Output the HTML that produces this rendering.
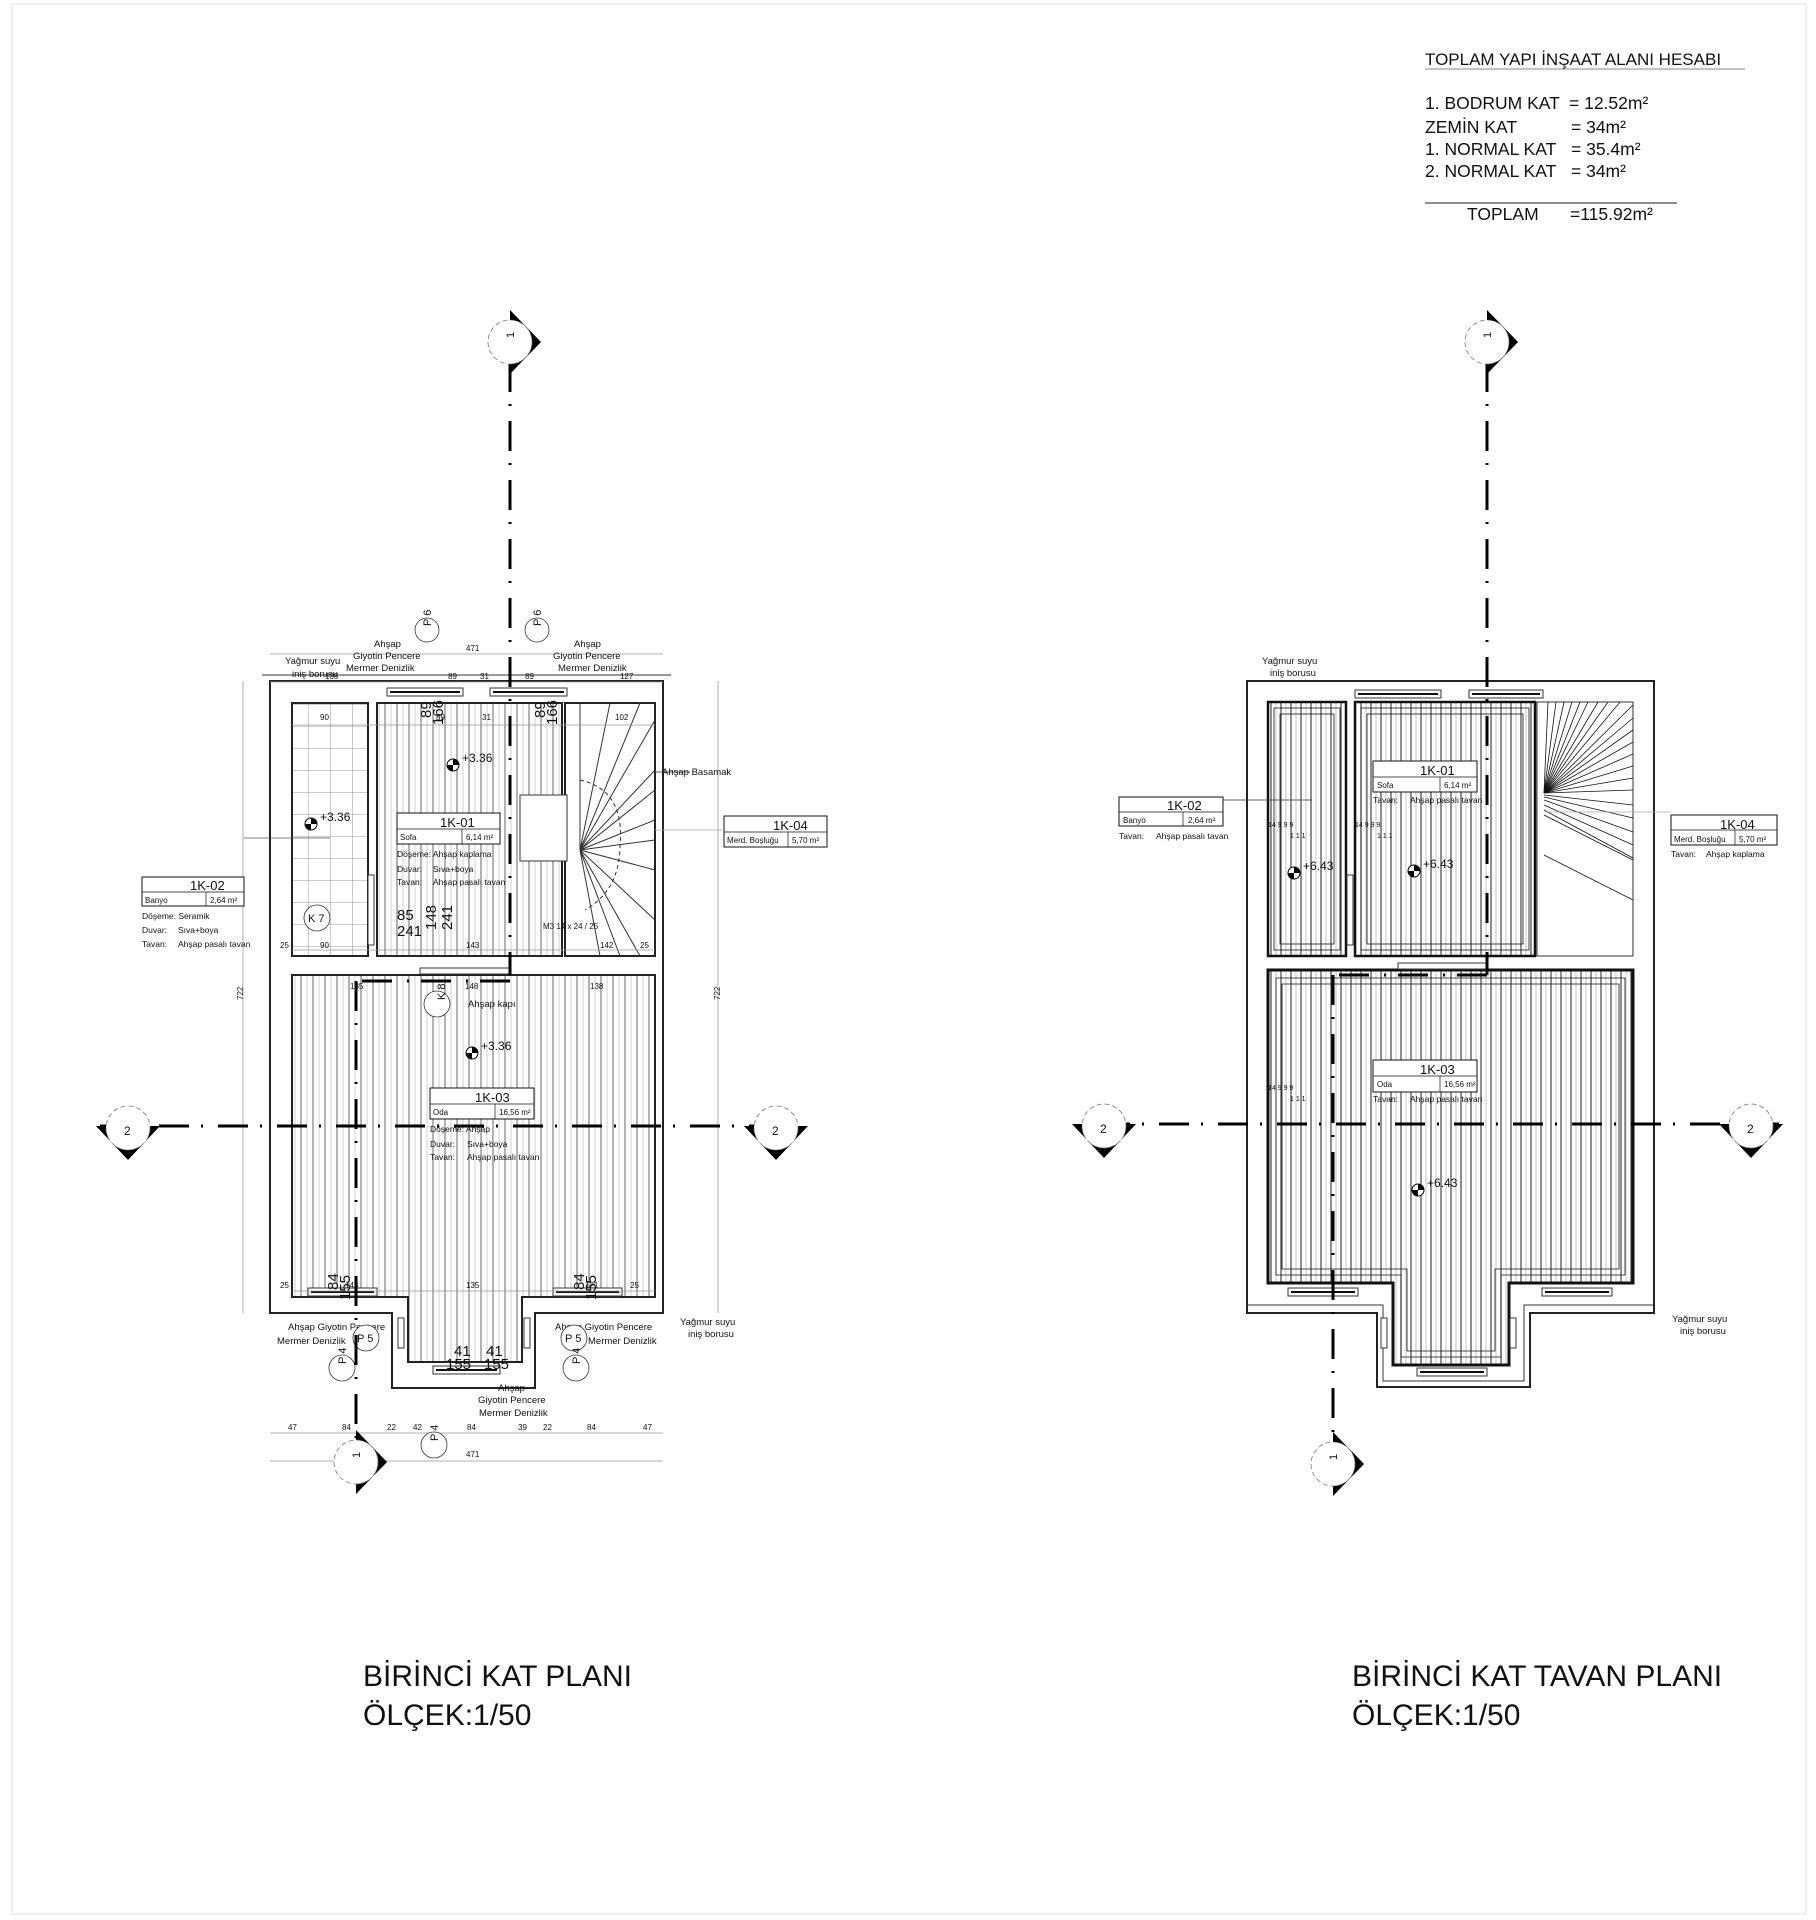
<!DOCTYPE html>
<html><head><meta charset="utf-8">
<style>
html,body{margin:0;padding:0;background:#fff;}
svg{display:block;font-family:"Liberation Sans",sans-serif;}
.t{font-family:"Liberation Sans",sans-serif;fill:#111;}
.w{fill:none;stroke:#222;stroke-width:2;}
.th{fill:none;stroke:#111;stroke-width:3;}
.l{fill:none;stroke:#333;stroke-width:1;}
.g{fill:none;stroke:#999;stroke-width:0.8;}
.ax{fill:none;stroke:#000;stroke-width:3;stroke-dasharray:30 12 2 15;}
</style></head>
<body>
<svg width="1816" height="1920" viewBox="0 0 1816 1920" xmlns="http://www.w3.org/2000/svg">
<defs>
<pattern id="boards" width="12" height="10" patternUnits="userSpaceOnUse">
<line x1="1" y1="0" x2="1" y2="10" stroke="#555" stroke-width="0.9"/>
<line x1="7" y1="0" x2="7" y2="10" stroke="#bbb" stroke-width="0.7"/>
</pattern>
<pattern id="boards2" width="10" height="10" patternUnits="userSpaceOnUse">
<line x1="1" y1="0" x2="1" y2="10" stroke="#333" stroke-width="1.1"/>
<line x1="6" y1="0" x2="6" y2="10" stroke="#aaa" stroke-width="0.7"/>
</pattern>
<pattern id="tiles" width="22" height="22" patternUnits="userSpaceOnUse">
<path d="M0 0H22M0 0V22" stroke="#777" stroke-width="0.8" fill="none"/>
</pattern>
</defs>
<rect x="0" y="0" width="1816" height="1920" fill="#fff"/>
<rect x="12" y="4" width="1794" height="1910" fill="none" stroke="#e2e2e2" stroke-width="1"/>

<!-- Area table -->
<text class="t" x="1425" y="65" font-size="17">TOPLAM YAPI İNŞAAT ALANI HESABI</text>
<line x1="1425" y1="69" x2="1745" y2="69" stroke="#888" stroke-width="1"/>
<g class="t" font-size="17.5">
<text x="1425" y="109">1. BODRUM KAT</text><text x="1569" y="109">= 12.52m²</text>
<text x="1425" y="133">ZEMİN KAT</text><text x="1571" y="133">= 34m²</text>
<text x="1425" y="155">1. NORMAL KAT</text><text x="1571" y="155">= 35.4m²</text>
<text x="1425" y="177">2. NORMAL KAT</text><text x="1571" y="177">= 34m²</text>
<text x="1467" y="220">TOPLAM</text><text x="1570" y="220">=115.92m²</text>
</g>
<line x1="1425" y1="203" x2="1677" y2="203" stroke="#222" stroke-width="1"/>

<!-- Titles -->
<g class="t" font-size="30">
<text x="363" y="1686">BİRİNCİ KAT PLANI</text>
<text x="363" y="1725">ÖLÇEK:1/50</text>
<text x="1352" y="1686">BİRİNCİ  KAT TAVAN PLANI</text>
<text x="1352" y="1725">ÖLÇEK:1/50</text>
</g>

<!-- ================= LEFT PLAN ================= -->
<!-- floors -->
<rect x="292" y="703" width="76" height="253" fill="url(#tiles)"/>
<rect x="377" y="703" width="185" height="253" fill="url(#boards)"/>
<rect x="292" y="975" width="363" height="322" fill="url(#boards)"/>
<rect x="408" y="1297" width="114" height="65" fill="url(#boards)"/>
<!-- walls -->
<path class="w" d="M270 681H663V1313H535V1388H392V1313H270Z"/>
<path class="l" d="M262 675H671"/>
<rect class="w" x="292" y="703" width="76" height="253"/>
<rect class="w" x="377" y="703" width="185" height="253"/>
<rect class="w" x="565" y="703" width="90" height="253"/>
<path class="w" d="M292 975H655V1297H522V1362H408V1297H292Z"/>
<!-- windows -->
<g>
<rect x="387" y="688" width="76" height="8" fill="#fff" stroke="#333"/><line x1="390" y1="692" x2="460" y2="692" stroke="#111" stroke-width="2"/>
<rect x="490" y="688" width="77" height="8" fill="#fff" stroke="#333"/><line x1="493" y1="692" x2="564" y2="692" stroke="#111" stroke-width="2"/>
<rect x="308" y="1288" width="69" height="8" fill="#fff" stroke="#333"/><line x1="311" y1="1292" x2="374" y2="1292" stroke="#111" stroke-width="2"/>
<rect x="553" y="1288" width="69" height="8" fill="#fff" stroke="#333"/><line x1="556" y1="1292" x2="619" y2="1292" stroke="#111" stroke-width="2"/>
<rect x="433" y="1366" width="67" height="8" fill="#fff" stroke="#333"/><line x1="436" y1="1370" x2="497" y2="1370" stroke="#111" stroke-width="2"/>
<rect x="398" y="1318" width="6" height="30" fill="#fff" stroke="#333"/>
<rect x="524" y="1318" width="6" height="30" fill="#fff" stroke="#333"/>
<rect x="368" y="875" width="6" height="70" fill="#fff" stroke="#333"/>
<rect x="420" y="968" width="90" height="6" fill="#fff" stroke="#333"/>
</g>
<!-- stair -->
<g class="l">
<rect x="520" y="795" width="47" height="66" fill="#fff"/>
<path d="M580 850L655 720M580 850L655 770M580 850L655 790M580 850L655 820M580 850L655 840M580 850L655 870M580 850L640 956M580 850L620 956M580 850L600 956M580 850L655 920M580 850L580 703M580 850L610 703M580 850L640 703"/>
<path d="M580 780Q625 790 620 845Q620 890 585 910" stroke-dasharray="4 3"/>
</g>
<line x1="655" y1="772" x2="690" y2="772" stroke="#555"/>
<!-- dimension lines -->
<g class="g">
<path d="M270 654H663M270 682H663M270 1433H663M270 1461H663M243 681V1313M718 681V1313M292 725H655M292 950H655M292 1291H655"/>
</g>
<g class="t" font-size="8">
<text x="466" y="651">471</text><text x="325" y="679">135</text><text x="448" y="679">89</text><text x="480" y="679">31</text><text x="525" y="679">89</text><text x="620" y="679">127</text>
<text x="320" y="720">90</text><text x="436" y="720">89</text><text x="482" y="720">31</text><text x="615" y="720">102</text>
<text x="280" y="948">25</text><text x="320" y="948">90</text><text x="466" y="948">143</text><text x="600" y="948">142</text><text x="640" y="948">25</text>
<text x="350" y="989">135</text><text x="465" y="989">148</text><text x="590" y="989">138</text>
<text x="280" y="1288">25</text><text x="345" y="1288">143</text><text x="466" y="1288">135</text><text x="585" y="1288">121</text><text x="630" y="1288">25</text>
<text x="288" y="1430">47</text><text x="342" y="1430">84</text><text x="387" y="1430">22</text><text x="413" y="1430">42</text><text x="467" y="1430">84</text><text x="518" y="1430">39</text><text x="543" y="1430">22</text><text x="587" y="1430">84</text><text x="643" y="1430">47</text>
<text x="466" y="1457">471</text>
<text x="243" y="1000" transform="rotate(-90 243 1000)">722</text>
<text x="720" y="1000" transform="rotate(-90 720 1000)">722</text>
<text x="543" y="929">M3 14 x 24 / 25</text>
</g>
<g class="t" font-size="15">
<text x="397" y="920">85</text><text x="397" y="936">241</text>
<text x="436" y="930" transform="rotate(-90 436 930)">148</text><text x="452" y="930" transform="rotate(-90 452 930)">241</text>
<text x="431" y="718" transform="rotate(-90 431 718)">89</text><text x="443" y="725" transform="rotate(-90 443 725)">166</text>
<text x="545" y="718" transform="rotate(-90 545 718)">89</text><text x="557" y="725" transform="rotate(-90 557 725)">166</text>
<text x="454" y="1356">41</text><text x="486" y="1356">41</text><text x="446" y="1369">155</text><text x="484" y="1369">155</text>
<text x="338" y="1290" transform="rotate(-90 338 1290)">84</text><text x="350" y="1300" transform="rotate(-90 350 1300)">155</text>
<text x="584" y="1290" transform="rotate(-90 584 1290)">84</text><text x="596" y="1300" transform="rotate(-90 596 1300)">155</text>
</g>
<!-- labels -->
<g class="t" font-size="9.5">
<text x="374" y="647">Ahşap</text><text x="353" y="659">Giyotin Pencere</text><text x="346" y="671">Mermer Denizlik</text>
<text x="574" y="647">Ahşap</text><text x="553" y="659">Giyotin Pencere</text><text x="558" y="671">Mermer Denizlik</text>
<text x="285" y="664">Yağmur suyu</text><text x="292" y="677">iniş borusu</text>
<text x="662" y="775">Ahşap Basamak</text>
<text x="468" y="1007">Ahşap kapı</text>
<text x="288" y="1330">Ahşap Giyotin Pencere</text><text x="277" y="1344">Mermer Denizlik</text>
<text x="555" y="1330">Ahşap Giyotin Pencere</text><text x="588" y="1344">Mermer Denizlik</text>
<text x="498" y="1391">Ahşap</text><text x="478" y="1403">Giyotin Pencere</text><text x="479" y="1416">Mermer Denizlik</text>
<text x="680" y="1325">Yağmur suyu</text><text x="688" y="1337">iniş borusu</text>
</g>
<g class="t" font-size="8.5">
<text x="142" y="919">Döşeme: Seramik</text><text x="142" y="933">Duvar:</text><text x="178" y="933">Sıva+boya</text><text x="142" y="947">Tavan:</text><text x="178" y="947">Ahşap pasalı tavan</text>
<text x="397" y="857">Döşeme: Ahşap kaplama</text><text x="397" y="872">Duvar:</text><text x="433" y="872">Sıva+boya</text><text x="397" y="885">Tavan:</text><text x="433" y="885">Ahşap pasalı tavan</text>
<text x="430" y="1132">Döşeme: Ahşap</text><text x="430" y="1147">Duvar:</text><text x="467" y="1147">Sıva+boya</text><text x="430" y="1160">Tavan:</text><text x="467" y="1160">Ahşap pasalı tavan</text>
</g>
<!-- room tags left -->
<g>
<rect x="397" y="813" width="103" height="31" fill="#fff" stroke="#111"/><line x1="397" y1="829" x2="500" y2="829" stroke="#111" stroke-width="0.7"/><line x1="462" y1="829" x2="462" y2="844" stroke="#111" stroke-width="0.7"/>
<text class="t" x="440" y="827" font-size="13">1K-01</text><text class="t" x="400" y="840" font-size="8">Sofa</text><text class="t" x="466" y="840" font-size="8">6,14 m²</text>
<rect x="142" y="877" width="102" height="29" fill="#fff" stroke="#111"/><line x1="142" y1="892" x2="244" y2="892" stroke="#111" stroke-width="0.7"/><line x1="206" y1="892" x2="206" y2="906" stroke="#111" stroke-width="0.7"/>
<text class="t" x="190" y="890" font-size="13">1K-02</text><text class="t" x="145" y="903" font-size="8">Banyo</text><text class="t" x="210" y="903" font-size="8">2,64 m²</text>
<rect x="724" y="816" width="103" height="31" fill="#fff" stroke="#111"/><line x1="724" y1="832" x2="827" y2="832" stroke="#111" stroke-width="0.7"/><line x1="788" y1="832" x2="788" y2="847" stroke="#111" stroke-width="0.7"/>
<text class="t" x="773" y="830" font-size="13">1K-04</text><text class="t" x="727" y="843" font-size="8">Merd. Boşluğu</text><text class="t" x="792" y="843" font-size="8">5,70 m²</text>
<rect x="430" y="1088" width="104" height="31" fill="#fff" stroke="#111"/><line x1="430" y1="1104" x2="534" y2="1104" stroke="#111" stroke-width="0.7"/><line x1="495" y1="1104" x2="495" y2="1119" stroke="#111" stroke-width="0.7"/>
<text class="t" x="475" y="1102" font-size="13">1K-03</text><text class="t" x="433" y="1115" font-size="8">Oda</text><text class="t" x="499" y="1115" font-size="8">16,56 m²</text>
<line x1="244" y1="838" x2="330" y2="838" stroke="#555" stroke-width="0.7"/>
<line x1="655" y1="830" x2="724" y2="830" stroke="#aaa" stroke-width="0.7"/>
</g>
<!-- elevations left -->
<g>
<circle cx="453" cy="765" r="6" fill="#fff" stroke="#000"/><path d="M453 759A6 6 0 0 1 459 765H453ZM453 771A6 6 0 0 1 447 765H453Z" fill="#000"/>
<text class="t" x="462" y="762" font-size="12">+3.36</text>
<circle cx="311" cy="824" r="6" fill="#fff" stroke="#000"/><path d="M311 818A6 6 0 0 1 317 824H311ZM311 830A6 6 0 0 1 305 824H311Z" fill="#000"/>
<text class="t" x="320" y="821" font-size="12">+3.36</text>
<circle cx="472" cy="1053" r="6" fill="#fff" stroke="#000"/><path d="M472 1047A6 6 0 0 1 478 1053H472ZM472 1059A6 6 0 0 1 466 1053H472Z" fill="#000"/>
<text class="t" x="481" y="1050" font-size="12">+3.36</text>
</g>
<!-- small circles -->
<g fill="#fff" stroke="#333" stroke-width="0.8">
<circle cx="317" cy="918" r="13"/><circle cx="437" cy="1004" r="13"/>
<circle cx="427" cy="630" r="12"/><circle cx="537" cy="630" r="12"/>
<circle cx="366" cy="1338" r="13"/><circle cx="574" cy="1338" r="13"/>
<circle cx="342" cy="1368" r="13"/><circle cx="576" cy="1368" r="13"/><circle cx="434" cy="1445" r="13"/>
</g>
<g class="t" font-size="11">
<text x="308" y="922">K 7</text>
<text x="441" y="1012" transform="rotate(-90 437 1004)">K 8</text>
<text x="431" y="634" transform="rotate(-90 427 630)">P 6</text>
<text x="541" y="634" transform="rotate(-90 537 630)">P 6</text>
<text x="357" y="1342">P 5</text><text x="565" y="1342">P 5</text>
<text x="346" y="1372" transform="rotate(-90 342 1368)">P 4</text>
<text x="580" y="1372" transform="rotate(-90 576 1368)">P 4</text>
<text x="438" y="1449" transform="rotate(-90 434 1445)">P 4</text>
</g>
<!-- axes left -->
<path class="ax" d="M510 362V975"/>
<path d="M510 981H356" stroke="#000" stroke-width="3" stroke-dasharray="30 12 2 15" fill="none"/>
<path class="ax" d="M356 981V1440"/>
<path class="ax" d="M100 1126H800"/>
<!-- axis markers left -->
<polygon points="510,310 541,342 510,374" fill="#000"/>
<circle cx="510" cy="342" r="22" fill="#fff" stroke="#777" stroke-width="0.8" stroke-dasharray="5 3"/>
<text class="t" x="514" y="346" font-size="11" transform="rotate(-90 510 342)">1</text>
<polygon points="356,1430 387,1462 356,1494" fill="#000"/>
<circle cx="356" cy="1462" r="22" fill="#fff" stroke="#777" stroke-width="0.8" stroke-dasharray="5 3"/>
<text class="t" x="360" y="1466" font-size="11" transform="rotate(-90 356 1462)">1</text>
<polygon points="96,1126 160,1126 128,1160" fill="#000"/>
<circle cx="128" cy="1128" r="22" fill="#fff" stroke="#777" stroke-width="0.8" stroke-dasharray="5 3"/>
<text class="t" x="124" y="1135" font-size="12">2</text>
<polygon points="744,1126 808,1126 776,1160" fill="#000"/>
<circle cx="776" cy="1128" r="22" fill="#fff" stroke="#777" stroke-width="0.8" stroke-dasharray="5 3"/>
<text class="t" x="772" y="1135" font-size="12">2</text>

<!-- ================= RIGHT PLAN ================= -->
<rect x="1268" y="702" width="78" height="254" fill="url(#boards2)"/>
<rect x="1355" y="702" width="180" height="254" fill="url(#boards2)"/>
<rect x="1268" y="970" width="365" height="313" fill="url(#boards2)"/>
<rect x="1393" y="1283" width="116" height="82" fill="url(#boards2)"/>
<path class="w" d="M1247 681H1654V1313H1530V1387H1377V1313H1247Z"/>
<path class="l" d="M1247 1305H1383V1381H1524V1305H1654"/>
<g fill="none" stroke="#111">
<rect x="1268" y="702" width="78" height="254" stroke-width="2.5"/><rect x="1274" y="708" width="66" height="242" stroke-width="0.8"/><rect x="1280" y="714" width="54" height="230" stroke-width="0.8"/>
<rect x="1355" y="702" width="180" height="254" stroke-width="2.5"/><rect x="1361" y="708" width="168" height="242" stroke-width="0.8"/><rect x="1367" y="714" width="156" height="230" stroke-width="0.8"/>
<path d="M1268 970H1633V1283H1509V1365H1393V1283H1268Z" stroke-width="3"/>
<path d="M1276 978H1625V1275H1501V1357H1401V1275H1276Z" stroke-width="0.8"/>
<path d="M1282 984H1619V1269H1495V1351H1407V1269H1282Z" stroke-width="0.8"/>
</g>
<rect x="1537" y="702" width="96" height="254" fill="#fff" stroke="#333" stroke-width="1"/>
<g stroke="#111" stroke-width="0.8">
<line x1="1544" y1="793" x2="1548" y2="702"/><line x1="1544" y1="793" x2="1556" y2="702"/><line x1="1544" y1="793" x2="1564" y2="702"/><line x1="1544" y1="793" x2="1572" y2="702"/><line x1="1544" y1="793" x2="1580" y2="702"/><line x1="1544" y1="793" x2="1588" y2="702"/><line x1="1544" y1="793" x2="1598" y2="702"/><line x1="1544" y1="793" x2="1608" y2="702"/><line x1="1544" y1="793" x2="1620" y2="702"/><line x1="1544" y1="793" x2="1633" y2="705"/>
<line x1="1544" y1="793" x2="1633" y2="718"/><line x1="1544" y1="793" x2="1633" y2="730"/><line x1="1544" y1="793" x2="1633" y2="742"/><line x1="1544" y1="793" x2="1633" y2="754"/><line x1="1544" y1="793" x2="1633" y2="766"/><line x1="1544" y1="793" x2="1633" y2="778"/><line x1="1544" y1="793" x2="1633" y2="790"/>
<line x1="1544" y1="795" x2="1633" y2="805"/><line x1="1544" y1="797" x2="1633" y2="818"/><line x1="1544" y1="800" x2="1633" y2="832"/><line x1="1544" y1="805" x2="1633" y2="845"/><line x1="1544" y1="810" x2="1633" y2="858"/><line x1="1544" y1="815" x2="1633" y2="860"/>
<line x1="1544" y1="855" x2="1633" y2="900"/>
</g>
<g>
<rect x="1355" y="690" width="86" height="8" fill="#fff" stroke="#333"/><line x1="1358" y1="694" x2="1438" y2="694" stroke="#111" stroke-width="2"/>
<rect x="1469" y="690" width="74" height="8" fill="#fff" stroke="#333"/><line x1="1472" y1="694" x2="1540" y2="694" stroke="#111" stroke-width="2"/>
<rect x="1288" y="1288" width="70" height="8" fill="#fff" stroke="#333"/><line x1="1291" y1="1292" x2="1355" y2="1292" stroke="#111" stroke-width="2"/>
<rect x="1542" y="1288" width="70" height="8" fill="#fff" stroke="#333"/><line x1="1545" y1="1292" x2="1609" y2="1292" stroke="#111" stroke-width="2"/>
<rect x="1417" y="1368" width="70" height="8" fill="#fff" stroke="#333"/><line x1="1420" y1="1372" x2="1484" y2="1372" stroke="#111" stroke-width="2"/>
<rect x="1381" y="1318" width="6" height="30" fill="#fff" stroke="#333"/>
<rect x="1510" y="1318" width="6" height="30" fill="#fff" stroke="#333"/>
<rect x="1347" y="875" width="6" height="70" fill="#fff" stroke="#333"/>
<rect x="1398" y="963" width="90" height="6" fill="#fff" stroke="#333"/>
</g>
<!-- right tags -->
<g>
<rect x="1373" y="761" width="104" height="31" fill="#fff" stroke="#111"/><line x1="1373" y1="777" x2="1477" y2="777" stroke="#111" stroke-width="0.7"/><line x1="1440" y1="777" x2="1440" y2="792" stroke="#111" stroke-width="0.7"/>
<text class="t" x="1420" y="775" font-size="13">1K-01</text><text class="t" x="1377" y="788" font-size="8">Sofa</text><text class="t" x="1444" y="788" font-size="8">6,14 m²</text>
<text class="t" x="1373" y="803" font-size="8.5">Tavan:</text><text class="t" x="1410" y="803" font-size="8.5">Ahşap pasalı tavan</text>
<rect x="1119" y="797" width="104" height="29" fill="#fff" stroke="#111"/><line x1="1119" y1="812" x2="1223" y2="812" stroke="#111" stroke-width="0.7"/><line x1="1183" y1="812" x2="1183" y2="826" stroke="#111" stroke-width="0.7"/>
<text class="t" x="1167" y="810" font-size="13">1K-02</text><text class="t" x="1123" y="823" font-size="8">Banyo</text><text class="t" x="1188" y="823" font-size="8">2,64 m²</text>
<text class="t" x="1119" y="839" font-size="8.5">Tavan:</text><text class="t" x="1156" y="839" font-size="8.5">Ahşap pasalı tavan</text>
<line x1="1223" y1="800" x2="1312" y2="800" stroke="#333" stroke-width="0.7"/>
<rect x="1671" y="815" width="106" height="30" fill="#fff" stroke="#111"/><line x1="1671" y1="830" x2="1777" y2="830" stroke="#111" stroke-width="0.7"/><line x1="1735" y1="830" x2="1735" y2="845" stroke="#111" stroke-width="0.7"/>
<text class="t" x="1720" y="829" font-size="13">1K-04</text><text class="t" x="1674" y="842" font-size="8">Merd. Boşluğu</text><text class="t" x="1739" y="842" font-size="8">5,70 m²</text>
<text class="t" x="1671" y="857" font-size="8.5">Tavan:</text><text class="t" x="1706" y="857" font-size="8.5">Ahşap kaplama</text>
<line x1="1545" y1="812" x2="1671" y2="812" stroke="#aaa" stroke-width="0.7"/>
<rect x="1373" y="1060" width="104" height="32" fill="#fff" stroke="#111"/><line x1="1373" y1="1076" x2="1477" y2="1076" stroke="#111" stroke-width="0.7"/><line x1="1440" y1="1076" x2="1440" y2="1092" stroke="#111" stroke-width="0.7"/>
<text class="t" x="1420" y="1074" font-size="13">1K-03</text><text class="t" x="1377" y="1087" font-size="8">Oda</text><text class="t" x="1444" y="1087" font-size="8">16,56 m²</text>
<text class="t" x="1373" y="1102" font-size="8.5">Tavan:</text><text class="t" x="1410" y="1102" font-size="8.5">Ahşap pasalı tavan</text>
</g>
<g class="t" font-size="7">
<text x="1268" y="827">14 9 9 9</text><text x="1290" y="838">1 1 1</text>
<text x="1355" y="827">14 9 9 9</text><text x="1377" y="838">1 1 1</text>
<text x="1268" y="1090">14 9 9 9</text><text x="1290" y="1101">1 1 1</text>
</g>
<g class="t" font-size="9.5">
<text x="1262" y="664">Yağmur suyu</text><text x="1270" y="676">iniş borusu</text>
<text x="1672" y="1322">Yağmur suyu</text><text x="1680" y="1334">iniş borusu</text>
</g>
<g>
<circle cx="1294" cy="873" r="6" fill="#fff" stroke="#000"/><path d="M1294 867A6 6 0 0 1 1300 873H1294ZM1294 879A6 6 0 0 1 1288 873H1294Z" fill="#000"/>
<text class="t" x="1303" y="870" font-size="12">+6.43</text>
<circle cx="1414" cy="871" r="6" fill="#fff" stroke="#000"/><path d="M1414 865A6 6 0 0 1 1420 871H1414ZM1414 877A6 6 0 0 1 1408 871H1414Z" fill="#000"/>
<text class="t" x="1423" y="868" font-size="12">+6.43</text>
<circle cx="1418" cy="1190" r="6" fill="#fff" stroke="#000"/><path d="M1418 1184A6 6 0 0 1 1424 1190H1418ZM1418 1196A6 6 0 0 1 1412 1190H1418Z" fill="#000"/>
<text class="t" x="1427" y="1187" font-size="12">+6.43</text>
</g>
<!-- axes right -->
<path class="ax" d="M1487 362V975"/>
<path d="M1487 975H1333" stroke="#000" stroke-width="3" stroke-dasharray="30 12 2 15" fill="none"/>
<path class="ax" d="M1333 975V1440"/>
<path class="ax" d="M1100 1124H1790"/>
<polygon points="1487,310 1518,342 1487,374" fill="#000"/>
<circle cx="1487" cy="342" r="22" fill="#fff" stroke="#777" stroke-width="0.8" stroke-dasharray="5 3"/>
<text class="t" x="1491" y="346" font-size="11" transform="rotate(-90 1487 342)">1</text>
<polygon points="1333,1432 1364,1464 1333,1496" fill="#000"/>
<circle cx="1333" cy="1464" r="22" fill="#fff" stroke="#777" stroke-width="0.8" stroke-dasharray="5 3"/>
<text class="t" x="1337" y="1468" font-size="11" transform="rotate(-90 1333 1464)">1</text>
<polygon points="1072,1124 1136,1124 1104,1158" fill="#000"/>
<circle cx="1104" cy="1126" r="22" fill="#fff" stroke="#777" stroke-width="0.8" stroke-dasharray="5 3"/>
<text class="t" x="1100" y="1133" font-size="12">2</text>
<polygon points="1719,1124 1783,1124 1751,1158" fill="#000"/>
<circle cx="1751" cy="1126" r="22" fill="#fff" stroke="#777" stroke-width="0.8" stroke-dasharray="5 3"/>
<text class="t" x="1747" y="1133" font-size="12">2</text>
</svg>
</body></html>
